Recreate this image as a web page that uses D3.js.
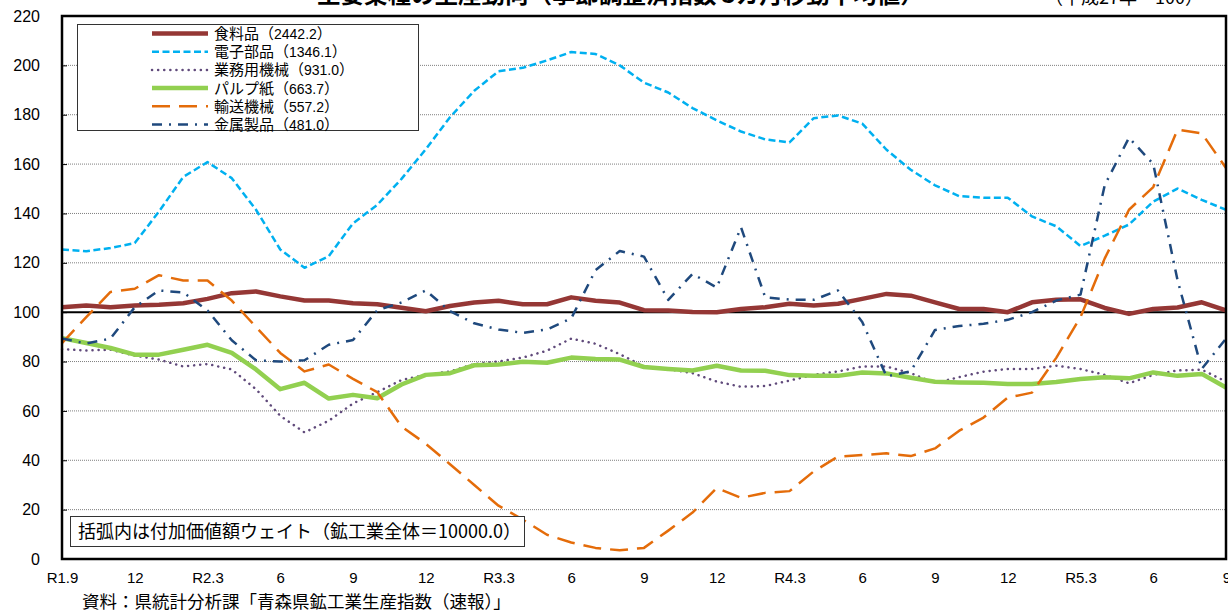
<!DOCTYPE html>
<html>
<head>
<meta charset="utf-8">
<script src="https://cdn.jsdelivr.net/npm/d3@7/dist/d3.min.js"></script>
<style>
    body { margin: 0; background: #fff; }
    svg { display: block; }
</style>
</head>
<body>
<div id="chart"></div>
<script>

// x axis labels, one every 3 months (R1.9 .. R5.9)
var tickLabels = ["R1.9", "12", "R2.3", "6", "9", "12", "R3.3", "6", "9", "12",
    "R4.3", "6", "9", "12", "R5.3", "6", "9"];

var yTicks = [0, 20, 40, 60, 80, 100, 120, 140, 160, 180, 200, 220];

var seriesNames = ["食料品", "電子部品", "業務用機械", "パルプ紙", "輸送機械", "金属製品"];
var seriesWeights = ["2442.2", "1346.1", "931.0", "663.7", "557.2", "481.0"];

// 3-month moving averages, 2019.9 .. 2023.9
var food = [102, 102.7, 102, 102.7, 103, 103.6, 105.4, 107.7, 108.4, 106.4, 104.7, 104.7,
    103.6, 103.2, 101.8, 100.4, 102.5, 103.9, 104.6, 103.2, 103.2, 106, 104.6, 103.9,
    100.8, 100.7, 100.1, 100, 101.3, 102, 103.4, 102.7, 103.4, 105.4, 107.4, 106.7,
    104, 101.3, 101.3, 100, 104, 105, 105.2, 101.7, 99.3, 101.3, 101.9, 104, 100.7];

var electronic = [125.4, 124.7, 126, 128, 140.8, 154.8, 160.8, 154.3, 141.5, 125.4, 118, 122.7,
    136, 143.5, 154, 166, 179, 189.7, 197.6, 199, 202, 205.4, 204.6, 200,
    193, 189, 182.7, 177.7, 173.2, 170, 168.8, 178.6, 179.7, 176.4, 165.8, 157.7,
    151.4, 147, 146.4, 146.4, 138.8, 134.8, 126.8, 131, 135.5, 144.8, 150.1, 145.5, 141.5];

var business = [85, 84.5, 84.8, 82.4, 80.8, 78, 79, 76.8, 68.8, 58, 51.3, 56,
    63, 67.6, 72.5, 74.6, 76, 79, 80, 81.6, 84.4, 89.3, 87.2, 83,
    78, 76.9, 75.3, 71.9, 69.8, 70.1, 72.3, 74.6, 76, 78, 78, 75.3,
    71.3, 73.7, 75.9, 77, 77, 78.3, 77, 74.6, 71.2, 74.6, 76.4, 76.7, 71.9];

var pulp = [89.5, 87.5, 85.5, 82.8, 82.8, 84.8, 86.8, 83.5, 76.8, 68.8, 71.4, 65,
    66.5, 65.1, 70.7, 74.6, 75.3, 78.5, 78.8, 79.9, 79.5, 81.6, 81, 80.8,
    77.8, 77, 76.4, 78.3, 76.4, 76.3, 74.5, 74.2, 74.2, 75.6, 75.2, 73.4,
    71.8, 71.5, 71.4, 70.9, 70.9, 71.7, 72.9, 73.6, 73.2, 75.6, 74.2, 75, 69.5];

var transport = [87.5, 98, 108.2, 109.5, 115, 112.8, 112.8, 104.7, 94, 83.5, 76, 78.8,
    73, 67.6, 53.7, 46.7, 38.4, 30, 21.6, 16, 9.8, 6.7, 4.5, 3.5,
    4.5, 11.5, 18.8, 28.8, 24.8, 26.8, 27.5, 35.5, 41.5, 42.1, 42.8, 41.7,
    44.8, 52, 57.3, 65.4, 67.4, 81.5, 98, 121.8, 141.5, 150.7, 173.9, 172.5, 158.4];

var metal = [89.3, 87.3, 89.3, 102, 108.8, 108, 100.7, 88.6, 80.5, 80, 80.5, 86.8,
    88.7, 100.8, 103.9, 108.8, 100.4, 95.5, 93, 91.6, 93, 97.5, 117, 124.8,
    122.5, 105, 115.5, 110, 134.4, 106, 105.1, 105, 108.8, 96, 74, 76,
    92.8, 94.4, 95.3, 96.9, 100, 104.7, 107.1, 151.5, 170.7, 160, 113, 77, 89.3];


LineChart = function(_parentElement, _data){
    this.parentElement = _parentElement;
    this.data = _data;
    this.initVis();
}

LineChart.prototype.initVis = function() {
    var vis = this;

    vis.svgWidth = 1228;
    vis.svgHeight = 615;
    vis.margin = {top: 16, right: 2, bottom: 56, left: 62};
    vis.width = vis.svgWidth - vis.margin.left - vis.margin.right;
    vis.height = vis.svgHeight - vis.margin.top - vis.margin.bottom;

    vis.svg = d3.select("#" + vis.parentElement).append("svg")
        .attr("width", vis.svgWidth)
        .attr("height", vis.svgHeight);

    vis.g = vis.svg.append("g")
        .attr("transform", "translate(" + vis.margin.left + "," + vis.margin.top + ")");

    vis.x = d3.scalePoint()
        .domain(d3.range(food.length))
        .range([0, vis.width]);

    vis.y = d3.scaleLinear()
        .domain([0, 220])
        .range([vis.height, 0]);

    // grid
    vis.g.append("g")
        .attr("class", "grid")
        .selectAll("line")
        .data(yTicks.filter(function(d){ return d > 0 && d < 220 && d != 100; }))
        .enter().append("line")
        .attr("x1", 0)
        .attr("x2", vis.width)
        .attr("y1", function(d){ return vis.y(d); })
        .attr("y2", function(d){ return vis.y(d); })
        .attr("stroke", "#7f7f7f")
        .attr("stroke-width", 1)
        .attr("stroke-dasharray", "1,1");

    // y axis
    var yAxis = vis.g.append("g")
        .call(d3.axisLeft(vis.y).tickValues(yTicks).tickSize(-5).tickPadding(22));
    yAxis.select(".domain").remove();
    yAxis.selectAll("line").attr("stroke", "#000");
    yAxis.selectAll("text")
        .style("font-family", "'Liberation Sans', Arial, sans-serif")
        .style("font-size", "16px")
        .attr("fill", "#000");

    // x axis
    var xAxis = vis.g.append("g")
        .attr("transform", "translate(0," + vis.height + ")")
        .call(d3.axisBottom(vis.x)
            .tickValues(d3.range(0, food.length, 3))
            .tickFormat(function(d){ return tickLabels[d / 3]; })
            .tickSize(0)
            .tickPadding(13));
    xAxis.select(".domain").remove();
    xAxis.selectAll("text")
        .style("font-family", "'Liberation Sans', Arial, sans-serif")
        .style("font-size", "15px")
        .attr("fill", "#000");
    // last label sits on the right edge, keep it inside the page
    xAxis.selectAll(".tick:last-of-type text").attr("text-anchor", "end").attr("dx", "0.3em");

    // base line at 100
    vis.g.append("line")
        .attr("x1", 0)
        .attr("x2", vis.width)
        .attr("y1", vis.y(100))
        .attr("y2", vis.y(100))
        .attr("stroke", "#000")
        .attr("stroke-width", 2);

    vis.line = d3.line()
        .x(function(d, i){ return vis.x(i); })
        .y(function(d){ return vis.y(d); });

    vis.g.selectAll(".series")
        .data(vis.data)
        .enter().append("path")
        .attr("class", "series")
        .attr("d", function(d){ return vis.line(d.values); })
        .attr("fill", "none")
        .attr("stroke", function(d){ return d.color; })
        .attr("stroke-width", function(d){ return d.width; })
        .attr("stroke-dasharray", function(d){ return d.dash; })
        .attr("stroke-linecap", function(d){ return d.cap; })
        .attr("stroke-linejoin", "round");

    // plot frame
    vis.g.append("rect")
        .attr("width", vis.width)
        .attr("height", vis.height)
        .attr("fill", "none")
        .attr("stroke", "#000")
        .attr("stroke-width", 2.5);

    // legend
    var lg = vis.svg.append("g");
    lg.append("rect")
        .attr("x", 77.5).attr("y", 24.5)
        .attr("width", 341).attr("height", 106)
        .attr("fill", "#fff")
        .attr("stroke", "#333")
        .attr("stroke-width", 1);

    var item = lg.selectAll(".item")
        .data(vis.data)
        .enter().append("g")
        .attr("class", "item")
        .attr("transform", function(d, i){ return "translate(0," + (33.5 + i * 18.2) + ")"; });

    item.append("line")
        .attr("x1", 152).attr("x2", 208)
        .attr("stroke", function(d){ return d.color; })
        .attr("stroke-width", function(d){ return d.width; })
        .attr("stroke-dasharray", function(d){ return d.dash; })
        .attr("stroke-linecap", function(d){ return d.cap; });

    var t = item.append("text")
        .attr("x", 214)
        .attr("y", 5.5)
        .style("font-family", "'Noto Sans CJK JP', sans-serif")
        .style("font-size", "15px")
        .attr("fill", "#000");
    t.append("tspan").text(function(d){ return d.name + "（"; });
    t.append("tspan")
        .style("font-family", "'Liberation Sans', sans-serif")
        .style("font-size", "14px")
        .text(function(d){ return d.weight; });
    t.append("tspan").text("）");

    // note box
    vis.svg.append("rect")
        .attr("x", 70.5).attr("y", 516.5)
        .attr("width", 454).attr("height", 30)
        .attr("fill", "#fff")
        .attr("stroke", "#333")
        .attr("stroke-width", 1);
    vis.svg.append("text")
        .attr("x", 78).attr("y", 538)
        .style("font-family", "'Noto Sans CJK JP', sans-serif")
        .style("font-size", "18px")
        .attr("fill", "#000")
        .text("括弧内は付加価値額ウェイト（鉱工業全体＝10000.0）");

    // titles (cut by the top edge as in the original)
    vis.svg.append("text")
        .attr("x", 317).attr("y", 3)
        .style("font-family", "'Noto Sans CJK JP', sans-serif")
        .style("font-size", "23.5px")
        .style("font-weight", "bold")
        .attr("fill", "#000")
        .text("主要業種の生産動向（季節調整済指数 3カ月移動平均値）");

    vis.svg.append("text")
        .attr("x", 1045).attr("y", 4)
        .style("font-family", "'Noto Sans CJK JP', sans-serif")
        .style("font-size", "18px")
        .attr("fill", "#000")
        .text("（平成27年＝100）");

    vis.svg.append("text")
        .attr("x", 82).attr("y", 608)
        .style("font-family", "'Noto Sans CJK JP', sans-serif")
        .style("font-size", "17.5px")
        .attr("fill", "#000")
        .text("資料：県統計分析課「青森県鉱工業生産指数（速報）」");
}

var series = [
    {values: food, color: "#953735", width: 4.5, dash: null, cap: "butt"},
    {values: electronic, color: "#00B0F0", width: 2.5, dash: "7,3.5", cap: "butt"},
    {values: business, color: "#604A7B", width: 2.5, dash: "0.1,6", cap: "round"},
    {values: pulp, color: "#92D050", width: 4.5, dash: null, cap: "butt"},
    {values: transport, color: "#E46C0A", width: 2.5, dash: "18,9", cap: "butt"},
    {values: metal, color: "#1F497D", width: 2.5, dash: "10,7,2,7", cap: "butt"}
];
series.forEach(function(d, i){
    d.name = seriesNames[i];
    d.weight = seriesWeights[i];
});

var chart = new LineChart("chart", series);

</script>
</body>
</html>
